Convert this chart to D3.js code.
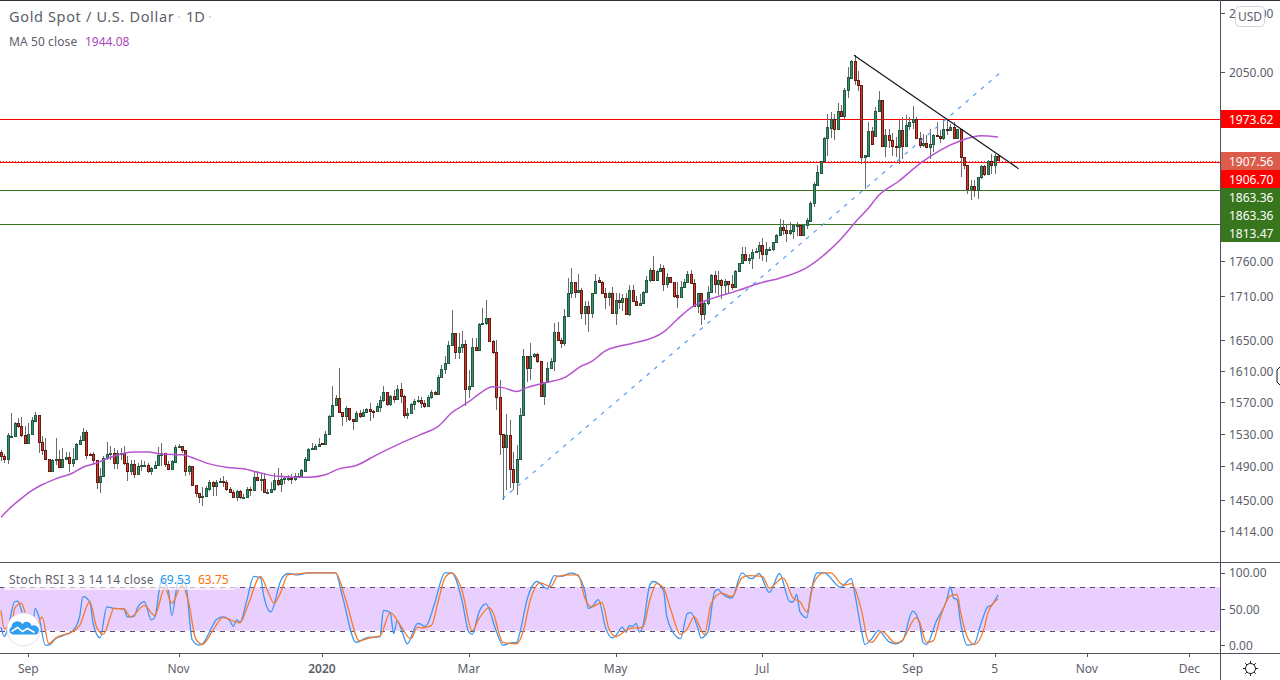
<!DOCTYPE html>
<html>
<head>
<meta charset="utf-8">
<script src="https://cdn.jsdelivr.net/npm/d3@7/dist/d3.min.js"></script>
<style>
html, body { margin: 0; padding: 0; background: #fff; overflow: hidden; }
svg { display: block; font-family: "Noto Sans", sans-serif; }
</style>
</head>
<body>
<svg id="chart" width="1280" height="680"></svg>
<script>
const opens = [
1508,1503,1499,1526,1527,1543,1539,1528,1519,1530, 1546,1553,1520,1510,1499,1485,1498,1499,1489,1499,
1501,1494,1499,1517,1522,1532,1505,1505,1498,1471, 1479,1500,1505,1506,1494,1506,1506,1494,1484,1493,
1481,1491,1491,1492,1484,1488,1492,1504,1506,1493, 1487,1495,1514,1515,1510,1484,1491,1468,1458,1454,
1455,1463,1471,1467,1471,1472,1471,1463,1460,1454, 1461,1453,1454,1463,1462,1477,1474,1475,1459,1460,
1463,1474,1469,1475,1475,1476,1475,1479,1477,1485, 1498,1511,1511,1515,1518,1517,1530,1552,1566,1575,
1557,1552,1562,1548,1546,1556,1552,1557,1561,1558, 1558,1563,1572,1582,1567,1577,1574,1586,1577,1553,
1556,1567,1571,1572,1568,1565,1576,1583,1580,1602, 1612,1620,1644,1660,1635,1641,1645,1586,1590,1641,
1637,1672,1673,1680,1649,1635,1576,1530,1514,1528, 1487,1471,1499,1553,1629,1613,1629,1632,1622,1577,
1595,1613,1623,1661,1651,1647,1683,1715,1729,1716, 1719,1687,1697,1687,1714,1732,1730,1715,1709,1714,
1687,1704,1702,1707,1685,1719,1703,1698,1701,1716, 1732,1747,1733,1745,1749,1727,1736,1730,1711,1709,
1723,1730,1741,1728,1696,1715,1685,1700,1716,1739, 1727,1732,1726,1731,1727,1723,1745,1756,1769,1761,
1764,1772,1773,1782,1769,1776,1776,1786,1796,1809, 1804,1799,1803,1811,1811,1797,1811,1817,1844,1871,
1889,1907,1944,1959,1973,1957,1987,1978,2020,2040, 2069,2037,2028,1914,1916,1955,1947,1986,2004,1931,
1948,1941,1931,1929,1956,1931,1963,1969,1973,1944, 1932,1936,1929,1934,1948,1947,1943,1958,1956,1961,
1944,1957,1914,1902,1865,1869,1864,1883,1900,1887, 1908,1901,1915
];
const highs = [
1510,1505,1531,1556,1545,1549,1551,1539,1543,1551, 1557,1553,1527,1525,1499,1499,1525,1510,1512,1508,
1508,1512,1519,1527,1537,1535,1506,1507,1498,1488, 1502,1520,1515,1512,1510,1512,1515,1502,1498,1498,
1494,1498,1496,1494,1489,1496,1514,1519,1506,1496, 1498,1516,1517,1515,1510,1492,1491,1468,1458,1465,
1466,1474,1472,1474,1476,1478,1474,1465,1462,1462, 1462,1457,1465,1465,1483,1484,1482,1482,1463,1471,
1482,1488,1482,1478,1480,1481,1482,1482,1487,1501, 1512,1519,1517,1525,1519,1533,1553,1590,1579,1613,
1557,1564,1562,1548,1558,1559,1561,1562,1568,1560, 1568,1577,1590,1583,1579,1585,1592,1594,1579,1562,
1568,1573,1577,1576,1572,1579,1585,1584,1604,1617, 1629,1649,1691,1660,1660,1662,1650,1611,1653,1653,
1673,1693,1704,1680,1651,1651,1598,1530,1555,1547, 1508,1516,1562,1639,1629,1646,1633,1633,1622,1595,
1621,1627,1673,1674,1653,1692,1735,1749,1730,1741, 1721,1703,1703,1715,1741,1736,1731,1722,1716,1723,
1715,1715,1713,1715,1725,1725,1710,1713,1717,1738, 1750,1766,1747,1755,1753,1743,1736,1730,1729,1731,
1734,1745,1747,1734,1715,1715,1703,1724,1741,1745, 1745,1734,1734,1731,1739,1747,1757,1779,1780,1769,
1776,1778,1786,1793,1786,1779,1787,1798,1820,1818, 1813,1815,1813,1816,1813,1813,1822,1847,1875,1901,
1908,1945,1982,1985,1982,1999,1996,2023,2059,2070, 2078,2051,2028,1917,1968,1961,1993,2018,2004,1958,
1958,1952,1945,1972,1977,1980,1977,1995,1977,1953, 1950,1948,1958,1950,1968,1956,1972,1974,1966,1969,
1958,1958,1914,1902,1878,1878,1883,1901,1901,1909, 1919,1919,1919
];
const lows = [
1497,1494,1493,1526,1526,1537,1526,1517,1518,1529, 1545,1506,1504,1498,1484,1485,1492,1488,1488,1498,
1483,1489,1498,1517,1521,1499,1503,1492,1463,1458, 1478,1498,1498,1487,1487,1498,1492,1473,1480,1476,
1480,1484,1490,1482,1480,1487,1491,1491,1489,1487, 1487,1494,1513,1506,1478,1480,1467,1453,1446,1443,
1454,1461,1455,1455,1470,1465,1461,1459,1453,1449, 1451,1452,1452,1455,1461,1473,1461,1458,1457,1458,
1461,1467,1460,1469,1473,1469,1473,1476,1476,1484, 1497,1510,1510,1515,1516,1516,1529,1551,1565,1556,
1540,1545,1546,1535,1546,1549,1551,1556,1546,1549, 1557,1557,1570,1565,1564,1568,1573,1568,1549,1548,
1554,1560,1568,1562,1562,1564,1573,1579,1580,1600, 1605,1619,1643,1625,1625,1633,1565,1575,1589,1636,
1636,1671,1671,1649,1632,1560,1504,1450,1462,1464, 1462,1456,1498,1552,1595,1598,1627,1620,1576,1566,
1594,1612,1609,1649,1640,1643,1682,1708,1708,1715, 1679,1671,1661,1680,1713,1729,1715,1692,1696,1686,
1670,1692,1690,1685,1683,1702,1697,1696,1700,1715, 1730,1731,1731,1744,1717,1722,1729,1708,1694,1708,
1722,1729,1727,1695,1687,1670,1677,1698,1715,1715, 1712,1706,1712,1714,1719,1722,1744,1755,1760,1755,
1748,1771,1762,1760,1758,1774,1774,1785,1796,1796, 1786,1796,1791,1795,1795,1795,1806,1816,1838,1870,
1888,1906,1916,1943,1940,1956,1977,1974,2007,2038, 2029,2018,1903,1865,1915,1933,1945,1985,1929,1914,
1927,1915,1914,1903,1911,1930,1956,1958,1943,1927, 1930,1927,1911,1921,1945,1935,1941,1948,1955,1943,
1943,1883,1896,1858,1849,1853,1850,1880,1885,1886, 1888,1888,1908
];
const closes = [
1503,1499,1528,1527,1543,1539,1528,1518,1530,1547, 1553,1520,1510,1499,1485,1498,1499,1489,1499,1501,
1494,1499,1517,1522,1532,1504,1504,1498,1471,1479, 1500,1505,1506,1494,1506,1506,1494,1484,1493,1481,
1491,1492,1492,1484,1488,1492,1504,1506,1493,1487, 1496,1514,1515,1510,1484,1491,1468,1458,1454,1455,
1464,1471,1467,1471,1472,1471,1463,1460,1454,1461, 1453,1454,1463,1462,1477,1474,1475,1459,1460,1463,
1474,1469,1475,1476,1476,1475,1479,1477,1486,1499, 1511,1512,1515,1517,1517,1530,1552,1566,1575,1557,
1552,1562,1548,1546,1556,1552,1557,1561,1558,1557, 1564,1572,1582,1567,1577,1574,1586,1577,1553,1556,
1567,1571,1572,1568,1565,1576,1582,1580,1602,1612, 1620,1644,1660,1635,1641,1645,1586,1590,1641,1637,
1672,1673,1680,1649,1635,1576,1530,1514,1528,1487, 1471,1499,1553,1629,1613,1629,1632,1622,1577,1595,
1613,1623,1661,1651,1647,1683,1715,1729,1716,1719, 1687,1697,1687,1714,1731,1730,1715,1709,1714,1687,
1704,1702,1707,1685,1719,1703,1698,1701,1716,1732, 1747,1733,1745,1749,1727,1736,1730,1710,1709,1723,
1730,1741,1728,1696,1715,1685,1700,1716,1739,1727, 1732,1726,1731,1727,1723,1745,1756,1769,1761,1764,
1772,1774,1782,1769,1776,1777,1787,1797,1809,1804, 1799,1804,1811,1811,1797,1811,1819,1844,1873,1890,
1907,1944,1960,1973,1958,1987,1978,2021,2041,2069, 2037,2028,1914,1917,1955,1934,1987,2004,1931,1948,
1941,1931,1929,1956,1931,1964,1969,1973,1944,1932, 1936,1929,1934,1948,1947,1943,1958,1956,1961,1944,
1957,1914,1901,1865,1869,1864,1883,1900,1887,1907, 1901,1915,1909
];

// moving average, read every few bars
const maBars = [0,3,6,9,12,16,21,24,28,32,36,39,43,47,53,57,61,66,71,76,81,86,90,95,99,104,110,117,123,128,132,137,141,144,147,151,154,160,165,170,173,177,181,185,194,198,202,209,216,222,228,236,242,246,251,254,257,263,269,275,281,287,292];
const maValues = [1430,1442,1452,1461,1468,1475,1482,1489,1494,1501,1506,1507.5,1507.5,1505,1504,1499,1493,1489,1487,1482,1478,1477,1477,1480,1487,1491,1504,1518,1529,1539,1556,1570,1583,1589,1588,1583,1588,1595,1601,1616,1622,1636,1642,1646,1661,1678,1694,1708,1718,1728,1735,1750,1772,1791,1820,1836,1855,1877,1903,1924,1939,1947,1945];

// stoch rsi, %K and %D
const kBars = [0,1,2,4,5,6,8,9,10,11,13,14,16,18,21,23,24,26,27,29,31,33,36,37,39,40,42,44,45,47,49,50,52,54,56,58,59,62,63,65,67,68,69,70,72,74,76,77,79,82,84,87,90,98,100,104,107,111,112,114,115,116,117,119,122,123,124,125,127,130,132,135,137,138,140,142,145,147,149,151,152,154,157,160,162,164,167,169,171,172,173,175,177,179,180,182,183,184,185,186,187,188,190,191,194,195,198,199,201,202,204,205,207,209,210,211,214,217,219,220,222,225,228,231,232,233,234,236,237,239,241,246,247,249,250,252,253,255,257,260,262,264,267,269,270,271,274,277,278,279,280,281,283,285,287,289,290,292];
const kValues = [25,12,23,60,61,48,18,13,51,41,0,0,9,13,19.5,39,67,60,30,10,53,51,50,39,40,52,60,35,38,89,76,41,90,86,7.5,0,2,27,35,39,34,26,35,32,62,95,93,67,46,90,99,97,100,100,67,4,10,12,48,45,16,34,25,2,30,29,26,30,58,100,100,62,18,15,46,57,20,0,3,4,18,62,88,78,96,95,100,96,74,51,53,63,25,10,13,25,18,27,26,30,18,27,83,88,76,39,11,9,44,45,25,10,18,74,77,72,65,100,93,92,99,73,99,60,60,70,46,38,67,100,100,80,84,92,72,20,1,9,20,5,2,6,47,30,4,1,34,63,81,65,63,32,0,2,30,53,55,69.53];
const dBars = [0,1,3,4,6,7,9,10,12,14,16,21,23,26,28,30,32,33,36,38,42,45,48,50,53,55,57,59,62,65,70,72,76,78,80,82,84,88,90,98,101,105,108,111,114,117,120,122,123,126,128,130,132,135,138,140,143,144,147,151,153,155,158,161,163,167,169,171,173,176,178,180,184,188,190,192,194,196,199,201,203,206,208,211,214,217,219,223,225,229,232,234,236,238,241,243,246,247,249,250,252,254,255,258,262,264,268,269,271,273,275,278,280,281,283,285,288,289,292];
const dValues = [48,23,27,51,58,46,25,20,39,2,10,19,27,60,25,15,39,51,50,39,55,41,79,58,83,58,9,1,20,38,31,51,95,76,58,74,97,99,100,100,62,6,10,13,45,27,9,25,24,27,60,93,100,76,20,37,52,46,4,2,20,62,86,81,95,97,97,65,53,59,23,12,23,25,62,85,79,51,15,23,39,15,58,72,67,93,96,95,79,93,65,60,46,86,100,100,85,83,85,79,48,6,4,19,3,7,38,32,4,6,37,68,70,46,11,1,25,44,63.75];

// tick labels and where they sit
const priceTicks = [2150,2050,1760,1710,1650,1610,1570,1530,1490,1450,1414];
const stochTicks = [100,50,0];
const stochBand = [20,80];
const timeBars = [8,52,94,137,180,223,267,291,318,348];
const timeLabels = ["Sep","Nov","2020","Mar","May","Jul","Sep","5","Nov","Dec"];
const timeBold = ["2020"];

// horizontal levels and the axis boxes that go with them
const levelPrices = [1973.62,1906.70,1863.36,1813.47];
const levelColors = ["#ff0000","#ff0000","#38761d","#38761d"];
const boxPrices = [1973.62,1907.56,1906.70,1863.36,1863.36,1813.47];
const boxColors = ["#ff0000","#dc5b4a","#ff0000","#38761d","#38761d","#38761d"];

// trend lines: [bar, price] ends
const resistBars = [249.8,298];
const resistPrices = [2078,1895.7];
const supportBars = [146.8,292.8];
const supportPrices = [1451,2049.5];

const W = 1280, H = 680;
const axisX = 1220, paneBottom = 562, stochBottom = 653;
const UP = "#3d8f6b", UP_EDGE = "#1f5b41", DOWN = "#d93a2b", DOWN_EDGE = "#631a13", WICK = "#6b6b6b";
const TXT = "#5d606b", AXIS = "#50535e";

const svg = d3.select("#chart");
svg.append("rect").attr("width", W).attr("height", H).attr("fill", "#fff");

const x = d3.scaleLinear().domain([0, 348]).range([1, 1189.3]);
const y = d3.scaleLog().domain([1450, 2050]).range([500, 72]);
const ys = d3.scaleLinear().domain([0, 100]).range([645.2, 572.8]);

const defs = svg.append("defs");
defs.append("clipPath").attr("id", "pricePane").append("rect").attr("width", axisX).attr("height", paneBottom);
defs.append("clipPath").attr("id", "stochPane").append("rect").attr("y", paneBottom).attr("width", axisX).attr("height", stochBottom - paneBottom);

const main = svg.append("g").attr("clip-path", "url(#pricePane)");

// levels go under the candles
main.selectAll("line.level").data(levelPrices).join("line")
    .attr("class", "level")
    .attr("x1", 0).attr("x2", axisX)
    .attr("y1", d => Math.round(y(d)) + 0.5).attr("y2", d => Math.round(y(d)) + 0.5)
    .attr("stroke", (d, i) => levelColors[i]).attr("stroke-width", 1);
// dotted last price, one row above the level it nearly touches
main.append("line")
    .attr("x1", 0).attr("x2", axisX)
    .attr("y1", Math.round(y(levelPrices[1])) - 0.5).attr("y2", Math.round(y(levelPrices[1])) - 0.5)
    .attr("stroke", "#ef3b30").attr("stroke-width", 1).attr("stroke-dasharray", "1,2");

const bars = d3.range(opens.length);
const px = i => Math.round(x(i));

main.append("g").selectAll("rect").data(bars).join("rect")
    .attr("x", i => px(i)).attr("width", 1)
    .attr("y", i => Math.round(y(highs[i])))
    .attr("height", i => Math.max(1, Math.round(y(lows[i])) - Math.round(y(highs[i]))))
    .attr("fill", WICK);

main.append("g").selectAll("rect").data(bars).join("rect")
    .attr("x", i => px(i) - 1 + 0.5).attr("width", 2)
    .attr("y", i => Math.round(y(Math.max(opens[i], closes[i]))) + 0.5)
    .attr("height", i => Math.max(1, Math.round(y(Math.min(opens[i], closes[i]))) - Math.round(y(Math.max(opens[i], closes[i])))))
    .attr("fill", i => closes[i] >= opens[i] ? UP : DOWN)
    .attr("stroke", i => closes[i] >= opens[i] ? UP_EDGE : DOWN_EDGE)
    .attr("stroke-width", 1);

const maLine = d3.line().curve(d3.curveMonotoneX).x((d, i) => x(maBars[i])).y(d => y(d));
main.append("path").attr("d", maLine(maValues))
    .attr("fill", "none").attr("stroke", "#b654cf").attr("stroke-width", 1.5);

main.append("path")
    .attr("d", d3.line().x((d, i) => x(supportBars[i])).y(d => y(d))(supportPrices))
    .attr("fill", "none").attr("stroke", "#5b9cf6").attr("stroke-width", 1.2).attr("stroke-dasharray", "4,6");
main.append("path")
    .attr("d", d3.line().x((d, i) => x(resistBars[i])).y(d => y(d))(resistPrices))
    .attr("fill", "none").attr("stroke", "#131722").attr("stroke-width", 1.2);

// stoch pane
const sub = svg.append("g").attr("clip-path", "url(#stochPane)");
sub.append("rect").attr("x", 0).attr("width", axisX)
    .attr("y", ys(stochBand[1])).attr("height", ys(stochBand[0]) - ys(stochBand[1]))
    .attr("fill", "#e9cffd");
sub.selectAll("line").data(stochBand).join("line")
    .attr("x1", 0).attr("x2", axisX)
    .attr("y1", d => Math.round(ys(d)) + 0.5).attr("y2", d => Math.round(ys(d)) + 0.5)
    .attr("stroke", "#5c4d6b").attr("stroke-width", 1).attr("stroke-dasharray", "5,5");
sub.append("path").attr("d", d3.line().curve(d3.curveMonotoneX).x((d, i) => x(kBars[i])).y(d => ys(d))(kValues))
    .attr("fill", "none").attr("stroke", "#3d96f0").attr("stroke-width", 1.3);
sub.append("path").attr("d", d3.line().curve(d3.curveMonotoneX).x((d, i) => x(dBars[i])).y(d => ys(d))(dValues))
    .attr("fill", "none").attr("stroke", "#f57a2c").attr("stroke-width", 1.3);

// frame
svg.append("rect").attr("width", W).attr("height", 1).attr("fill", "#2a2e39");
svg.append("rect").attr("y", paneBottom).attr("width", W).attr("height", 1).attr("fill", AXIS);
svg.append("rect").attr("y", stochBottom).attr("width", W).attr("height", 1).attr("fill", AXIS);
svg.append("rect").attr("x", axisX).attr("width", 1).attr("height", H).attr("fill", AXIS);

// right axis
const yAxis = svg.append("g");
yAxis.selectAll("line").data(priceTicks).join("line")
    .attr("x1", axisX).attr("x2", axisX + 5)
    .attr("y1", d => Math.round(y(d)) + 0.5).attr("y2", d => Math.round(y(d)) + 0.5)
    .attr("stroke", AXIS);
yAxis.selectAll("text").data(priceTicks).join("text")
    .attr("x", 1229).attr("y", d => y(d) + 5)
    .attr("font-size", 12).attr("fill", TXT)
    .text(d => d3.format(".2f")(d));

const sAxis = svg.append("g");
sAxis.selectAll("line").data(stochTicks).join("line")
    .attr("x1", axisX).attr("x2", axisX + 5)
    .attr("y1", d => Math.round(ys(d)) + 0.5).attr("y2", d => Math.round(ys(d)) + 0.5)
    .attr("stroke", AXIS);
sAxis.selectAll("text").data(stochTicks).join("text")
    .attr("x", 1229).attr("y", d => ys(d) + 4.5)
    .attr("font-size", 12).attr("fill", TXT)
    .text(d => d3.format(".2f")(d));

// axis boxes, pushed down when they would overlap
let prevBox = -100;
const boxCentres = boxPrices.map(p => {
    prevBox = Math.max(Math.round(y(p)), prevBox + 18);
    return prevBox;
});
svg.append("g").selectAll("rect").data(boxPrices).join("rect")
    .attr("x", axisX + 1).attr("width", W - axisX - 1)
    .attr("y", (d, i) => boxCentres[i] - 9).attr("height", 18)
    .attr("fill", (d, i) => boxColors[i]);
svg.append("g").selectAll("text").data(boxPrices).join("text")
    .attr("x", 1229).attr("y", (d, i) => boxCentres[i] + 5)
    .attr("font-size", 12).attr("fill", "#fff")
    .text(d => d3.format(".2f")(d));

// time axis
const xAxis = svg.append("g");
xAxis.selectAll("line").data(timeBars).join("line")
    .attr("x1", d => Math.round(x(d)) + 0.5).attr("x2", d => Math.round(x(d)) + 0.5)
    .attr("y1", stochBottom).attr("y2", stochBottom + 4)
    .attr("stroke", AXIS);
xAxis.selectAll("text").data(timeBars).join("text")
    .attr("x", d => x(d)).attr("y", 673)
    .attr("text-anchor", "middle").attr("font-size", 12).attr("fill", TXT)
    .attr("font-weight", (d, i) => timeBold.includes(timeLabels[i]) ? 600 : 400)
    .text((d, i) => timeLabels[i]);

// USD button
svg.append("rect").attr("x", 1235.5).attr("y", 6.5).attr("width", 29).attr("height", 20).attr("rx", 4)
    .attr("fill", "#fff").attr("stroke", "#d1d4dc");
svg.append("text").attr("x", 1250).attr("y", 21).attr("text-anchor", "middle")
    .attr("font-size", 12).attr("fill", TXT).text("USD");

// legends
svg.append("text").attr("x", 9).attr("y", 22).attr("font-size", 14.5).attr("fill", "#5d606b")
    .attr("letter-spacing", 0.65).text("Gold Spot / U.S. Dollar");
svg.append("text").attr("x", 177).attr("y", 22).attr("font-size", 14).attr("fill", "#c9cbd1").text("·");
svg.append("text").attr("x", 186).attr("y", 22).attr("font-size", 14.5).attr("fill", "#5d606b").text("1D");
svg.append("text").attr("x", 208).attr("y", 22).attr("font-size", 14).attr("fill", "#c9cbd1").text("·");
svg.append("text").attr("x", 9).attr("y", 46).attr("font-size", 12).attr("letter-spacing", 0.1).attr("fill", "#5d606b").text("MA 50 close");
svg.append("text").attr("x", 85).attr("y", 46).attr("font-size", 12).attr("fill", "#ab47bc").text("1944.08");

svg.append("rect").attr("x", 4).attr("y", 570).attr("width", 231).attr("height", 20).attr("fill", "#fff").attr("opacity", 0.6);
svg.append("text").attr("x", 9).attr("y", 584).attr("font-size", 12).attr("letter-spacing", 0.27).attr("fill", "#5d606b").text("Stoch RSI 3 3 14 14 close");
svg.append("text").attr("x", 160).attr("y", 584).attr("font-size", 12).attr("fill", "#2196f3").text("69.53");
svg.append("text").attr("x", 198).attr("y", 584).attr("font-size", 12).attr("fill", "#ff6d00").text("63.75");

// logo badge
const logo = svg.append("g").attr("transform", "translate(23.5,629.5)");
logo.append("circle").attr("r", 16.5).attr("fill", "#fff").attr("stroke", "#e4dcec");
logo.append("path")
    .attr("d", "M-11,5 a4,4 0 0 1 -1,-7.5 a6,6 0 0 1 11,-3 a5,5 0 0 1 9,2 a4.5,4.5 0 0 1 5,8.5 Z")
    .attr("fill", "#2f9df0");
logo.append("path")
    .attr("d", "M-12,2 L-6,-2 L-1,2 L4,-1 L11,3")
    .attr("fill", "none").attr("stroke", "#fff").attr("stroke-width", 1.6);

// gear, bottom right
const gear = svg.append("g").attr("transform", "translate(1250.5,668.5)");
gear.append("circle").attr("r", 5).attr("fill", "none").attr("stroke", "#131722").attr("stroke-width", 1);
d3.range(8).forEach(k => {
    const a = k * Math.PI / 4;
    gear.append("line")
        .attr("x1", 5 * Math.cos(a)).attr("y1", 5 * Math.sin(a))
        .attr("x2", 7.5 * Math.cos(a)).attr("y2", 7.5 * Math.sin(a))
        .attr("stroke", "#131722").attr("stroke-width", 1);
});

// resize cursor caught at the right edge
svg.append("path").attr("d", "M1280,367 L1277,370 L1277,382 L1280,385")
    .attr("fill", "none").attr("stroke", "#131722").attr("stroke-width", 1);
</script>
</body>
</html>
